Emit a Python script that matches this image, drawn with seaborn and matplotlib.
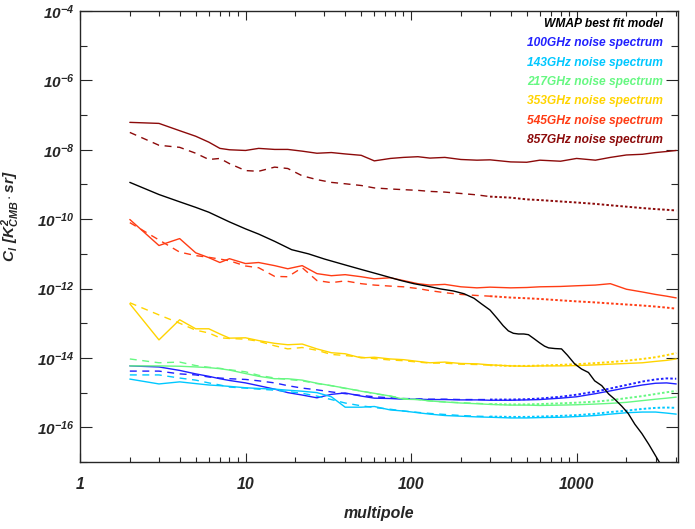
import numpy as np
import pandas as pd
import seaborn as sns
import matplotlib.pyplot as plt
from matplotlib import font_manager
from matplotlib.ticker import FixedLocator, FixedFormatter, NullFormatter

# multipoles used for the noise spectra
ell = [2, 3, 4, 5, 6, 7, 8, 10, 12, 15, 18, 22, 27, 33, 40, 50, 60, 75, 90, 110,
       130, 160, 200, 250, 300, 400, 500, 600, 800, 1000, 1300, 1600, 2000, 2500,
       3000, 3500, 4000]

# log10(C_l), solid and dashed curve for each channel
log_100_solid = [-14.23, -14.26, -14.36, -14.46, -14.53, -14.60, -14.65, -14.72, -14.80, -14.90,
                 -15.00, -15.07, -15.15, -15.05, -15.01, -15.10, -15.16, -15.17, -15.19, -15.19,
                 -15.20, -15.20, -15.21, -15.21, -15.22, -15.22, -15.21, -15.20, -15.16, -15.12,
                 -15.03, -14.95, -14.86, -14.78, -14.73, -14.72, -14.75]
log_100_dash = [-14.38, -14.38, -14.46, -14.49, -14.55, -14.58, -14.60, -14.62, -14.66, -14.72,
                -14.80, -14.87, -14.92, -14.98, -15.03, -15.08, -15.12, -15.15, -15.17, -15.18,
                -15.19, -15.19, -15.20, -15.20, -15.20, -15.20, -15.19, -15.17, -15.12, -15.06,
                -14.97, -14.88, -14.78, -14.68, -14.62, -14.59, -14.60]
log_143_solid = [-14.61, -14.75, -14.69, -14.74, -14.78, -14.80, -14.82, -14.86, -14.88, -14.90,
                 -14.93, -14.96, -15.00, -15.12, -15.42, -15.42, -15.40, -15.50, -15.53, -15.58,
                 -15.62, -15.66, -15.68, -15.70, -15.71, -15.73, -15.73, -15.72, -15.71, -15.69,
                 -15.66, -15.62, -15.58, -15.56, -15.56, -15.59, -15.62]
log_143_dash = [-14.49, -14.49, -14.58, -14.64, -14.72, -14.78, -14.84, -14.87, -14.90, -14.93,
                -14.97, -15.02, -15.10, -15.20, -15.30, -15.38, -15.43, -15.48, -15.53, -15.57,
                -15.60, -15.63, -15.66, -15.68, -15.69, -15.70, -15.70, -15.69, -15.67, -15.65,
                -15.61, -15.56, -15.52, -15.47, -15.44, -15.43, -15.44]
log_217_solid = [-14.23, -14.23, -14.24, -14.26, -14.28, -14.31, -14.35, -14.45, -14.53, -14.60,
                 -14.60, -14.64, -14.73, -14.80, -14.87, -14.96, -15.02, -15.10, -15.19, -15.20,
                 -15.24, -15.27, -15.30, -15.32, -15.34, -15.36, -15.36, -15.37, -15.36, -15.35,
                 -15.33, -15.31, -15.28, -15.23, -15.19, -15.16, -15.13]
log_217_dash = [-14.03, -14.14, -14.12, -14.22, -14.27, -14.30, -14.34, -14.40, -14.50, -14.58,
                -14.62, -14.66, -14.74, -14.80, -14.88, -14.95, -15.03, -15.10, -15.17, -15.20,
                -15.24, -15.27, -15.29, -15.31, -15.33, -15.34, -15.34, -15.33, -15.31, -15.29,
                -15.26, -15.22, -15.16, -15.10, -15.04, -14.99, -14.95]
log_353_solid = [-12.44, -13.48, -12.90, -13.16, -13.16, -13.31, -13.43, -13.42, -13.50, -13.58,
                 -13.62, -13.60, -13.74, -13.85, -13.88, -14.00, -13.98, -14.03, -14.05, -14.10,
                 -14.14, -14.12, -14.16, -14.17, -14.20, -14.23, -14.24, -14.23, -14.23, -14.22,
                 -14.20, -14.18, -14.16, -14.14, -14.10, -14.07, -14.03]
log_353_dash = [-12.41, -12.76, -13.00, -13.20, -13.28, -13.42, -13.44, -13.46, -13.52, -13.65,
                -13.74, -13.70, -13.78, -13.90, -13.93, -13.98, -14.02, -14.06, -14.08, -14.12,
                -14.15, -14.15, -14.18, -14.19, -14.21, -14.23, -14.23, -14.22, -14.20, -14.18,
                -14.15, -14.12, -14.08, -14.03, -13.98, -13.92, -13.86]
log_545_solid = [-10.01, -10.76, -10.56, -10.97, -11.11, -11.25, -11.14, -11.28, -11.25, -11.34,
                 -11.43, -11.34, -11.57, -11.63, -11.60, -11.66, -11.72, -11.69, -11.77, -11.86,
                 -11.90, -11.88, -11.95, -11.98, -11.96, -11.98, -11.97, -11.95, -11.94, -11.92,
                 -11.90, -11.86, -12.02, -12.10, -12.17, -12.22, -12.27]
log_545_dash = [-10.10, -10.60, -10.95, -11.05, -11.10, -11.15, -11.20, -11.35, -11.40, -11.65,
                -11.66, -11.40, -11.77, -11.83, -11.78, -11.86, -11.90, -11.93, -11.95, -12.00,
                -12.06, -12.12, -12.17, -12.20, -12.22, -12.26, -12.28, -12.30, -12.34, -12.37,
                -12.40, -12.43, -12.46, -12.49, -12.52, -12.55, -12.58]
log_857_solid = [-7.21, -7.24, -7.45, -7.61, -7.78, -7.96, -8.00, -8.02, -7.96, -7.99,
                 -7.99, -8.04, -8.10, -8.08, -8.12, -8.16, -8.32, -8.25, -8.22, -8.20,
                 -8.24, -8.22, -8.28, -8.30, -8.29, -8.35, -8.36, -8.30, -8.33, -8.25,
                 -8.30, -8.22, -8.15, -8.13, -8.08, -8.05, -8.02]
log_857_dash = [-7.50, -7.87, -7.93, -8.10, -8.28, -8.25, -8.40, -8.60, -8.62, -8.50,
                -8.54, -8.75, -8.86, -8.94, -8.98, -9.03, -9.10, -9.13, -9.15, -9.17,
                -9.20, -9.22, -9.26, -9.30, -9.35, -9.38, -9.43, -9.45, -9.49, -9.52,
                -9.56, -9.60, -9.64, -9.68, -9.71, -9.73, -9.75]

# WMAP best fit model C_l
ell_cmb = [2, 3, 4, 5, 6, 8, 10, 12, 15, 19, 24, 30, 40, 50, 65, 87, 104, 125, 150, 180,
           209, 240, 266, 300, 330, 360, 387, 415, 445, 480, 512, 555, 600, 640, 677, 740,
           811, 880, 973, 1072, 1180, 1286, 1420, 1563, 1700, 1874, 2050, 2248, 2480, 2730,
           3140, 3600]
log_cmb = [-8.94, -9.29, -9.50, -9.66, -9.80, -10.08, -10.28, -10.43, -10.64, -10.88,
           -11.00, -11.15, -11.32, -11.45, -11.60, -11.77, -11.86, -11.93, -12.01, -12.07,
           -12.15, -12.28, -12.44, -12.62, -12.85, -13.07, -13.22, -13.29, -13.31, -13.31,
           -13.33, -13.45, -13.57, -13.66, -13.71, -13.73, -13.74, -13.92, -14.17, -14.32,
           -14.42, -14.66, -14.80, -15.04, -15.19, -15.39, -15.60, -15.91, -16.18, -16.49,
           -16.98, -17.40]

channels = ['100GHz', '143GHz', '217GHz', '353GHz', '545GHz', '857GHz']
colors = ['#2020ff', '#00c8ff', '#66f882', '#ffd400', '#ff3c14', '#8c0a0a']
solid = [log_100_solid, log_143_solid, log_217_solid, log_353_solid, log_545_solid, log_857_solid]
dashed = [log_100_dash, log_143_dash, log_217_dash, log_353_dash, log_545_dash, log_857_dash]

y_ticks = [1e-16, 1e-14, 1e-12, 1e-10, 1e-8, 1e-6, 1e-4]
y_labels = ['$10^{-16}$', '$10^{-14}$', '$10^{-12}$', '$10^{-10}$', '$10^{-8}$', '$10^{-6}$', '$10^{-4}$']
x_ticks = [1, 10, 100, 1000]
x_labels = ['1', '10', '100', '1000']

# condensed face if there is one, like the IDL Helvetica-narrow look
installed = {f.name for f in font_manager.fontManager.ttflist}
narrow = 'Liberation Sans Narrow' in installed
face = 'Liberation Sans Narrow' if narrow else 'Liberation Sans'
k = 1.0 if narrow else 0.82   # shrink factor when only the wide face exists

sns.set_style('ticks')
plt.rcParams['font.family'] = [face, 'DejaVu Sans']
plt.rcParams['font.weight'] = 'bold'
plt.rcParams['font.style'] = 'italic'
plt.rcParams['mathtext.fontset'] = 'custom'
for key in ['mathtext.rm', 'mathtext.it', 'mathtext.bf', 'mathtext.sf']:
    plt.rcParams[key] = face + ':bold:italic'

fig = plt.figure(figsize=(6.95, 5.29), dpi=100)
ax = fig.add_axes([80 / 695, 1 - 462 / 529, 598 / 695, 451 / 529])

# noise spectra: solid and dashed per channel (dashes get dense at high ell)
for name, col, s, d in zip(channels, colors, solid, dashed):
    df = pd.DataFrame({'ell': ell, 'cl_s': 10.0 ** np.array(s), 'cl_d': 10.0 ** np.array(d)})
    sns.lineplot(data=df, x='ell', y='cl_s', color=col, lw=1.0, ax=ax, estimator=None)
    low = df[df['ell'] <= 300]
    high = df[df['ell'] >= 300]
    sns.lineplot(data=low, x='ell', y='cl_d', color=col, lw=1.0, ax=ax, estimator=None,
                 linestyle=(0, (5, 4)))
    sns.lineplot(data=high, x='ell', y='cl_d', color=col, lw=1.4, ax=ax, estimator=None,
                 linestyle=(0, (1.3, 1.1)))

# CMB model
sns.lineplot(x=ell_cmb, y=10.0 ** np.array(log_cmb), color='black', lw=1.0, ax=ax, estimator=None)

ax.set_xscale('log')
ax.set_yscale('log')
ax.set_xlim(1, 4100)
ax.set_ylim(1e-17, 1e-4)

ax.xaxis.set_major_locator(FixedLocator(x_ticks))
ax.xaxis.set_major_formatter(FixedFormatter(x_labels))
ax.xaxis.set_minor_locator(FixedLocator([m * 10 ** p for p in range(0, 4) for m in range(2, 10)]))
ax.xaxis.set_minor_formatter(NullFormatter())
ax.yaxis.set_major_locator(FixedLocator(y_ticks))
ax.yaxis.set_major_formatter(FixedFormatter(y_labels))
ax.yaxis.set_minor_locator(FixedLocator([10.0 ** p for p in range(-17, -4, 2)]))
ax.yaxis.set_minor_formatter(NullFormatter())

ax.tick_params(axis='x', which='major', direction='in', length=6.5, width=0.8, top=True,
               labelsize=14 * k, pad=11)
ax.tick_params(axis='x', which='minor', direction='in', length=3.6, width=0.8, top=True)
ax.tick_params(axis='y', which='major', direction='in', length=8.6, width=0.8, right=True,
               labelsize=13.5 * k, pad=4)
ax.tick_params(axis='y', which='minor', direction='in', length=5, width=0.8, right=True)
for sp in ax.spines.values():
    sp.set_linewidth(1.0)
    sp.set_visible(True)

ax.set_xlabel('multipole', fontsize=14 * k, fontweight='bold', style='italic', labelpad=10)
ax.set_ylabel(r'$C_l\ [K^2_{CMB}\cdot sr]$', fontsize=13.5 * k)
ax.yaxis.set_label_coords(-0.097, 0.545)

# text legend in the top right corner
fs = 10.5 * k
ax.text(0.975, 0.971, 'WMAP best fit model', color='black', transform=ax.transAxes,
        ha='right', va='center', fontsize=fs, fontweight='bold', style='italic')
for i, (name, col) in enumerate(zip(channels, colors)):
    ax.text(0.975, 0.971 - 0.0428 * (i + 1), name + ' noise spectrum', color=col,
            transform=ax.transAxes, ha='right', va='center', fontsize=fs,
            fontweight='bold', style='italic')

fig.savefig('out.png', dpi=100)
